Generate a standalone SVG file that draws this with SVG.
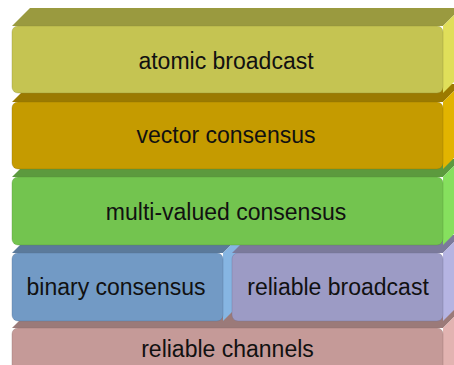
<svg xmlns="http://www.w3.org/2000/svg" width="454" height="365" viewBox="0 0 454 365">
  <style>
    .lbl { font-family: "Liberation Sans", Arial, sans-serif; font-size: 23px; fill: #111; text-anchor: middle; }
    .front { stroke-width: 1; stroke-opacity: 0.35; }
  </style>
  <rect width="454" height="365" fill="#ffffff"/>

  <!-- layers are painted bottom-up so each upper block covers the top face of the one beneath -->
  <g id="reliable-channels">
    <polygon points="12,328 30,310 461,310 443,328" fill="#9b7a79"/>
    <polygon points="443,328 461,310 461,377 443,395" fill="#e2b3b1"/>
    <rect class="front" x="12" y="328" width="431" height="67" rx="6" fill="#c59a98" stroke="#8a6a68"/>
    <text class="lbl" x="227.5" y="357">reliable channels</text>
  </g>

  <g id="binary-consensus">
    <polygon points="12,253 30,235 241,235 223,253" fill="#5b7a9b"/>
    <polygon points="223,253 241,235 241,303 223,321" fill="#86b5e2"/>
    <rect class="front" x="12" y="253" width="211" height="68" rx="6" fill="#729ac5" stroke="#4f6e90"/>
    <text class="lbl" x="116" y="295">binary consensus</text>
  </g>

  <g id="reliable-broadcast">
    <polygon points="232,253 250,235 461,235 443,253" fill="#7b7a9b"/>
    <polygon points="443,253 461,235 461,303 443,321" fill="#b5b4e2"/>
    <rect class="front" x="232" y="253" width="211" height="68" rx="6" fill="#9c9bc5" stroke="#6f6e92"/>
    <text class="lbl" x="338" y="295">reliable broadcast</text>
  </g>

  <g id="multi-valued-consensus">
    <polygon points="12,177 30,159 461,159 443,177" fill="#5c9a3e"/>
    <polygon points="443,177 461,159 461,227 443,245" fill="#86e05e"/>
    <rect class="front" x="12" y="177" width="431" height="68" rx="6" fill="#73c44f" stroke="#4f8f34"/>
    <text class="lbl" x="226" y="220">multi-valued consensus</text>
  </g>

  <g id="vector-consensus">
    <polygon points="12,102 30,84 461,84 443,102" fill="#9b7a00"/>
    <polygon points="443,102 461,84 461,151 443,169" fill="#e2b400"/>
    <rect class="front" x="12" y="102" width="431" height="67" rx="6" fill="#c59b00" stroke="#8c6e00"/>
    <text class="lbl" x="226" y="143">vector consensus</text>
  </g>

  <g id="atomic-broadcast">
    <polygon points="12,26 30,8 461,8 443,26" fill="#9a9a3f"/>
    <polygon points="443,26 461,8 461,75 443,93" fill="#e0df5a"/>
    <rect class="front" x="12" y="26" width="431" height="67" rx="6" fill="#c5c452" stroke="#8d8c35"/>
    <text class="lbl" x="226" y="69">atomic broadcast</text>
  </g>

  <g id="connectors"/>
</svg>
